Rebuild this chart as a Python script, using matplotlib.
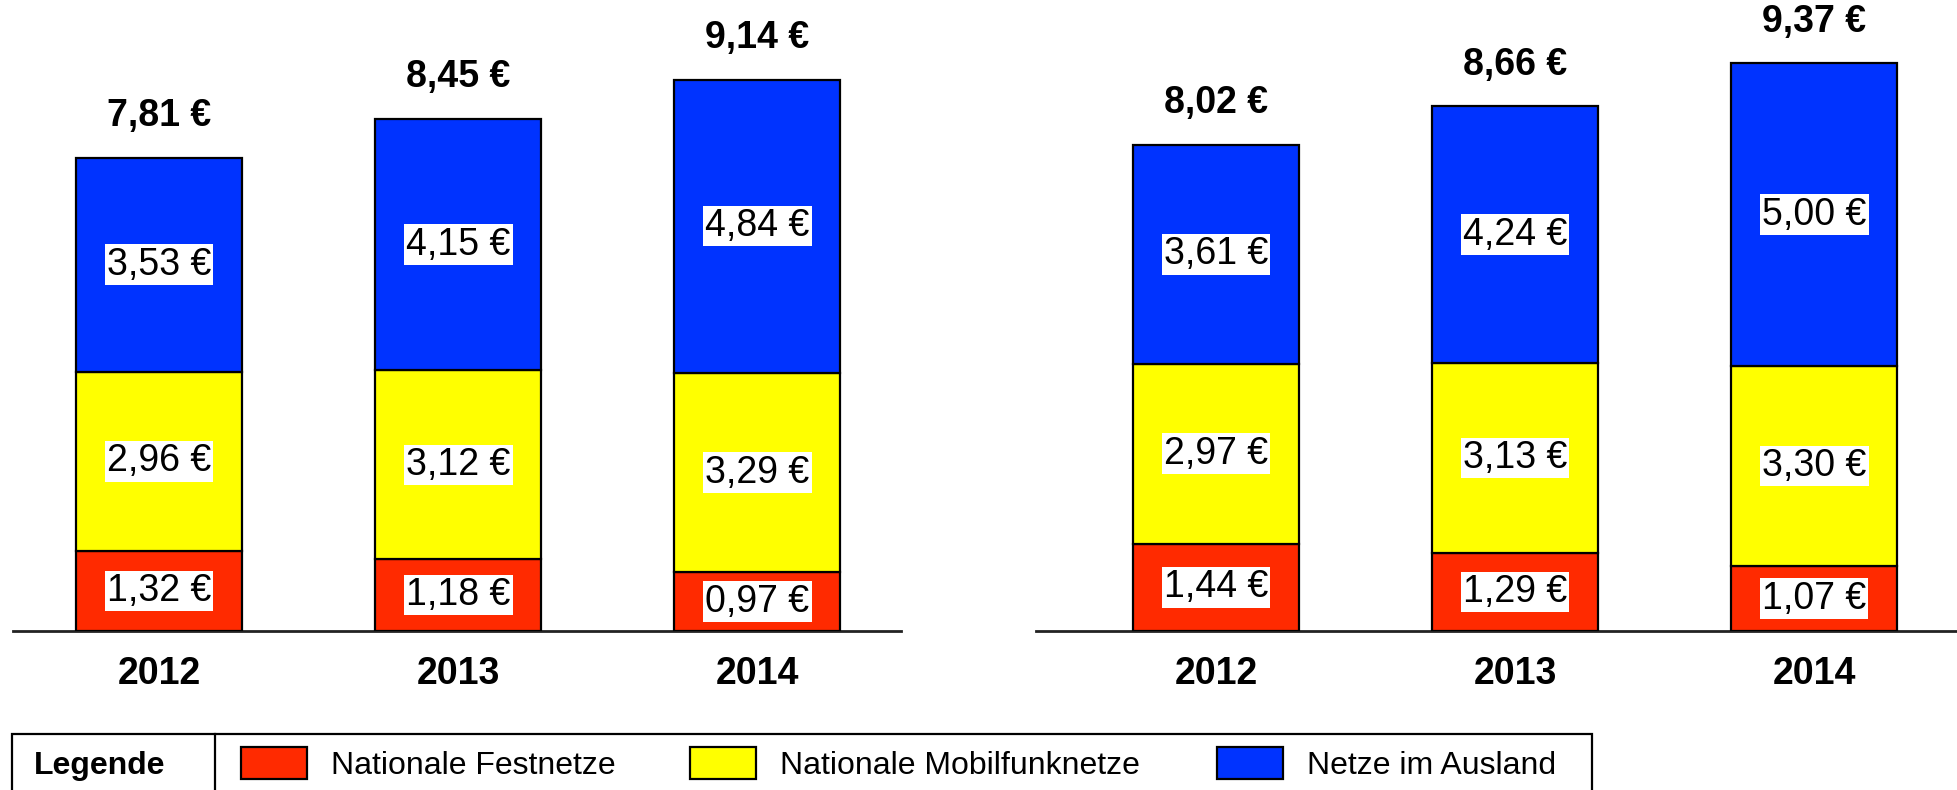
import matplotlib.pyplot as plt
from matplotlib.patches import Rectangle

plt.rcParams['font.family'] = ['Liberation Sans', 'DejaVu Sans']

# data
years = ['2012', '2013', '2014']
series_names = ['Nationale Festnetze', 'Nationale Mobilfunknetze', 'Netze im Ausland']
colors = ['#FF2A00', '#FFFF00', '#0033FF']

left_fest = [1.32, 1.18, 0.97]
left_mobil = [2.96, 3.12, 3.29]
left_ausland = [3.53, 4.15, 4.84]
left_total = [7.81, 8.45, 9.14]

right_fest = [1.44, 1.29, 1.07]
right_mobil = [2.97, 3.13, 3.30]
right_ausland = [3.61, 4.24, 5.00]
right_total = [8.02, 8.66, 9.37]

W, H = 1957, 790
fig = plt.figure(figsize=(W / 100, H / 100), dpi=100)


def euro(v):
    return f"{v:.2f}".replace('.', ',') + " €"


def panel(rect, xlim, segs, totals):
    ax = fig.add_axes(rect)
    x = range(len(years))
    bottom = [0.0] * len(years)
    for vals, col in zip(segs, colors):
        ax.bar(x, vals, width=0.555, bottom=bottom, color=col,
               edgecolor='black', linewidth=1.6, zorder=3)
        for i, v in enumerate(vals):
            ax.text(i, bottom[i] + v / 2, euro(v), ha='center', va='center',
                    fontsize=27, zorder=4,
                    bbox=dict(facecolor='white', edgecolor='none', pad=1.5))
        bottom = [b + v for b, v in zip(bottom, vals)]
    for i, t in enumerate(totals):
        ax.annotate(euro(t), (i, bottom[i]), xytext=(0, 30), textcoords='offset points',
                    ha='center', va='center', fontsize=27, fontweight='bold')
    ax.set_xlim(*xlim)
    ax.set_ylim(0, 631 / 60.6)
    for s in ['top', 'left', 'right']:
        ax.spines[s].set_visible(False)
    ax.spines['bottom'].set_linewidth(2)
    ax.spines['bottom'].set_color('#222222')
    ax.set_yticks([])
    ax.set_xticks(list(x))
    ax.set_xticklabels(years, fontsize=27, fontweight='bold')
    ax.tick_params(axis='x', length=0, pad=18)
    return ax


panel([13 / W, 159 / H, 888 / W, 631 / H], (-0.488, 2.48),
      [left_fest, left_mobil, left_ausland], left_total)
panel([1036 / W, 159 / H, 921 / W, 631 / H], (-0.602, 2.478),
      [right_fest, right_mobil, right_ausland], right_total)

# legend box in pixel coordinates
lg = fig.add_axes([0, 0, 1, 1])
lg.set_xlim(0, W)
lg.set_ylim(H, 0)
lg.axis('off')
lg.add_patch(Rectangle((12, 734), 1580, 70, facecolor='white', edgecolor='black',
                       linewidth=1.6, clip_on=False))
lg.plot([215, 215], [734, 790], color='black', linewidth=1.6)
lg.text(100, 766, 'Legende', ha='center', va='center', fontsize=23, fontweight='bold')
swatch_x = [241, 690, 1217]
for sx, name, col in zip(swatch_x, series_names, colors):
    lg.add_patch(Rectangle((sx, 747), 66, 32, facecolor=col, edgecolor='black', linewidth=1.6))
    lg.text(sx + 90, 766, name, ha='left', va='center', fontsize=23)

fig.savefig('out.png', dpi=100)
